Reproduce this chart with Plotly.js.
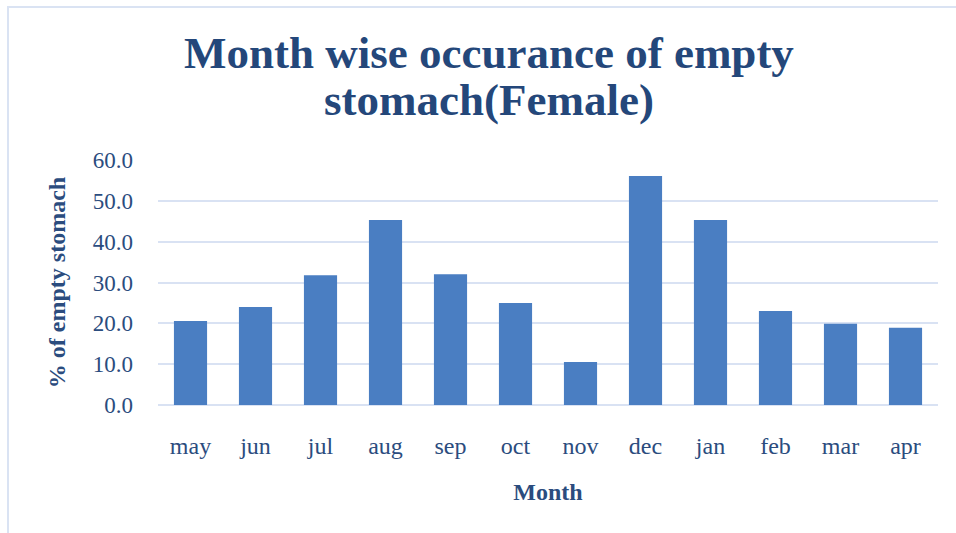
<!DOCTYPE html>
<html>
<head>
<meta charset="utf-8">
<script src="https://cdn.plot.ly/plotly-3.0.1.min.js"></script>
<style>
html,body{margin:0;padding:0;background:#fff;}
#wrap{position:relative;width:956px;height:533px;overflow:hidden;}
#chart{position:absolute;left:0;top:0;width:956px;height:533px;}
#frame{position:absolute;left:7px;top:6px;width:960px;height:540px;border-left:2px solid #DAE3F3;border-top:2px solid #DAE3F3;pointer-events:none;}
</style>
</head>
<body>
<div id="wrap"><div id="chart"></div><div id="frame"></div></div>
<script>
const months = ["may","jun","jul","aug","sep","oct","nov","dec","jan","feb","mar","apr"];
const emptyPct = [20.6, 24.0, 31.8, 45.3, 32.0, 25.0, 10.5, 56.1, 45.3, 23.0, 19.9, 18.9];
const yTicks = [0,10,20,30,40,50,60];
const yTickLabels = ["0.0","10.0","20.0","30.0","40.0","50.0","60.0"];
const titleLines = ["Month wise occurance of empty", "stomach(Female)"];

const fontFam = '"Liberation Serif", "DejaVu Serif", serif';
const textCol = '#2B4C7E';
const titleFont = {family: fontFam, size: 45, color: '#24477A', weight: 'bold'};

Plotly.newPlot('chart', [{
  type: 'bar',
  x: months,
  y: emptyPct,
  marker: {color: '#4A7EC2'},
  hoverinfo: 'x+y'
}], {
  width: 956, height: 533,
  margin: {l: 158, r: 18, t: 160, b: 128},
  paper_bgcolor: '#fff', plot_bgcolor: '#fff',
  bargap: 0.49,
  showlegend: false,
  annotations: [
    {text: '<b>' + titleLines[0] + '</b>', xref: 'paper', yref: 'paper', x: 0.424, y: 1.0 + 107/245, xanchor: 'center', yanchor: 'middle', showarrow: false, font: titleFont},
    {text: '<b>' + titleLines[1] + '</b>', xref: 'paper', yref: 'paper', x: 0.424, y: 1.0 + 60/245, xanchor: 'center', yanchor: 'middle', showarrow: false, font: titleFont}
  ],
  xaxis: {
    type: 'category',
    showgrid: false, zeroline: false, showline: false,
    ticks: '',
    tickfont: {family: fontFam, size: 24, color: textCol},
    ticklabelstandoff: 24,
    title: {text: '<b>Month</b>', font: {family: fontFam, size: 24, color: textCol}, standoff: 25}
  },
  yaxis: {
    range: [0, 60],
    tickvals: yTicks, ticktext: yTickLabels,
    showgrid: true, gridcolor: '#D9E2F3', gridwidth: 2,
    zeroline: true, zerolinecolor: '#D9E2F3', zerolinewidth: 2,
    showline: false, ticks: '',
    tickfont: {family: fontFam, size: 23, color: textCol},
    ticklabelstandoff: 24,
    title: {text: '<b>% of empty stomach</b>', font: {family: fontFam, size: 24, color: textCol}, standoff: 20}
  }
}, {displayModeBar: false, staticPlot: true});
</script>
</body>
</html>
